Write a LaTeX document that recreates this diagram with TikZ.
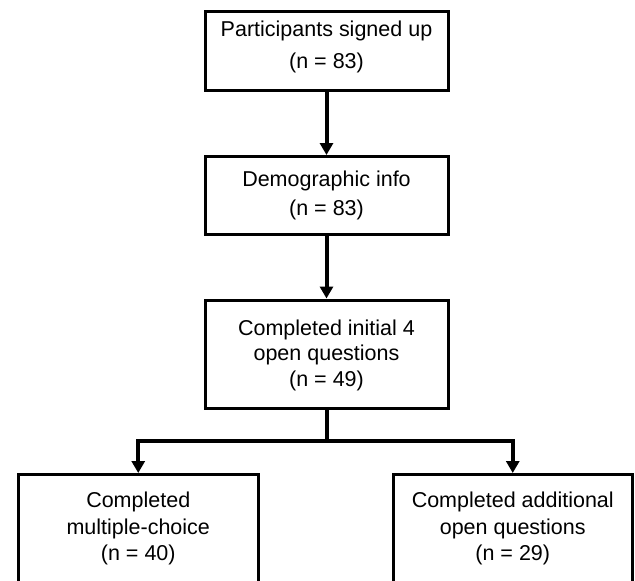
\documentclass[tikz,border=0pt]{standalone}
\usepackage{fontspec}
\setmainfont{Liberation Sans}
\usetikzlibrary{arrows.meta}
\begin{document}
\begin{tikzpicture}[x=1pt,y=-1pt,
  box/.style={draw=black, line width=3pt, rectangle, inner sep=0pt},
  txt/.style={align=center, inner sep=0pt, font=\fontsize{21.5}{#1}\selectfont},
  arr/.style={line width=4pt, -{Triangle[length=12pt,width=13pt]}}]
\clip (0,0) rectangle (635,581);
\fill[white] (0,0) rectangle (635,581);
\node[box, minimum width=243pt, minimum height=79pt] (b1) at (326.5,50.5) {};
\node[txt=31.5] (t1) at (326.5,47) {Participants signed up\\(n = 83)};
\node[box, minimum width=243pt, minimum height=78pt] (b2) at (326.5,195.5) {};
\node[txt=28.5] (t2) at (326.5,195.5) {Demographic info\\(n = 83)};
\node[box, minimum width=243pt, minimum height=108pt] (b3) at (326.5,354) {};
\node[txt=25.5] (t3) at (326.5,355) {Completed initial 4\\open questions\\(n = 49)};
\node[box, minimum width=239.5pt, minimum height=110pt] (b4) at (138.25,529.5) {};
\node[txt=26.5] (t4) at (138.25,528.5) {Completed\\multiple-choice\\(n = 40)};
\node[box, minimum width=238.5pt, minimum height=110pt] (b5) at (512.75,529.5) {};
\node[txt=26.5] (t5) at (512.75,528.5) {Completed additional\\open questions\\(n = 29)};
\coordinate (j) at (326.5,441);
\draw[arr] (b1.south) -- (b2.north);
\draw[arr] (b2.south) -- (b3.north);
\draw[line width=4pt] (b3.south) -- (j);
\draw[arr] (j) -| (b4.north);
\draw[arr] (j) -| (b5.north);
\end{tikzpicture}
\end{document}
